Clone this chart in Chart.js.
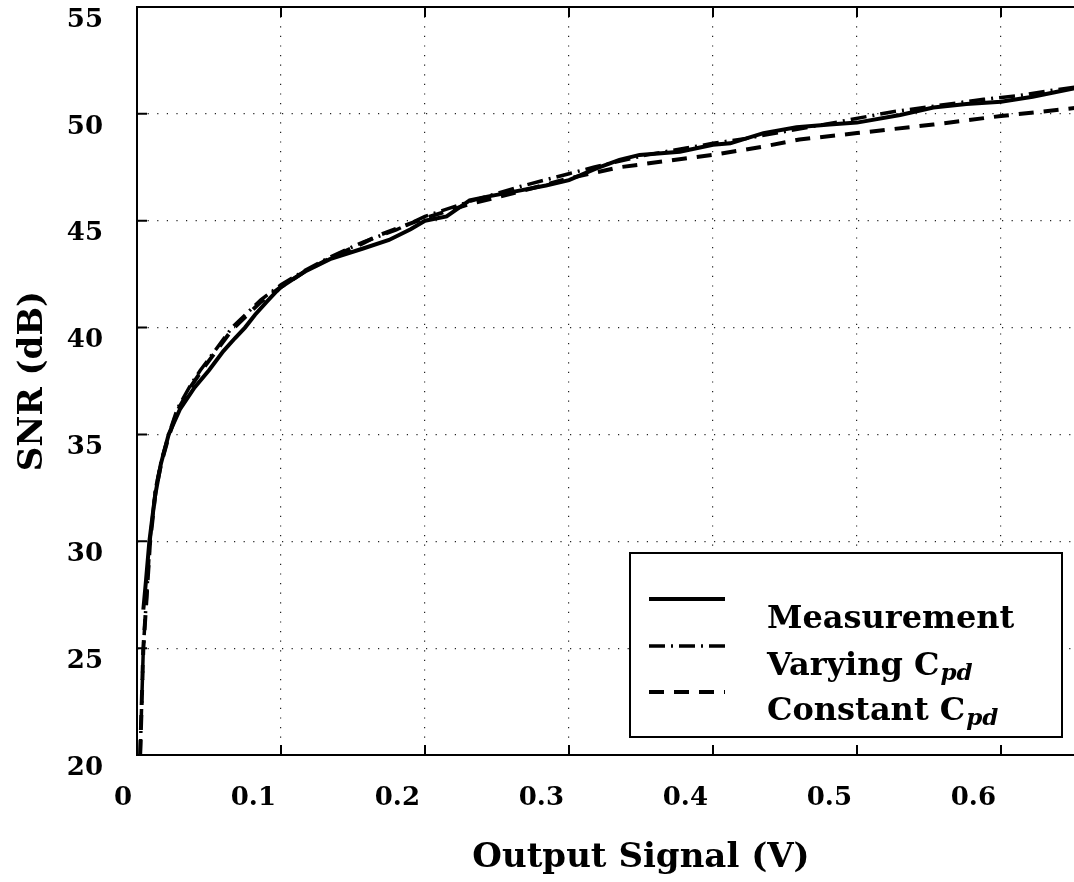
<!DOCTYPE html>
<html>
<head>
<meta charset="utf-8">
<script src="https://cdn.jsdelivr.net/npm/chart.js@4.4.1/dist/chart.umd.min.js"></script>
<style>
    html, body { margin: 0; padding: 0; background: #fff; overflow: hidden; }
    #wrap { width: 1074px; height: 882px; overflow: hidden; }
</style>
</head>
<body>
<div id="wrap"><canvas id="snrChart" width="1150" height="882"></canvas></div>
<script>
// Measured SNR vs output signal
const measX = [0.0044, 0.0063, 0.0086, 0.0125, 0.0165, 0.022, 0.030, 0.040, 0.050, 0.060, 0.068, 0.075, 0.082, 0.090, 0.097, 0.100, 0.116, 0.134, 0.157, 0.175, 0.190, 0.200, 0.215, 0.231, 0.245, 0.261, 0.284, 0.300, 0.319, 0.335, 0.349, 0.377, 0.400, 0.412, 0.435, 0.458, 0.481, 0.500, 0.530, 0.553, 0.576, 0.600, 0.622, 0.651, 0.660];
const measY = [26.8, 28.2, 30.0, 32.1, 33.6, 35.0, 36.2, 37.2, 38.0, 38.9, 39.5, 40.0, 40.6, 41.2, 41.7, 41.9, 42.6, 43.2, 43.7, 44.1, 44.6, 45.0, 45.2, 45.95, 46.15, 46.35, 46.65, 46.9, 47.45, 47.85, 48.08, 48.23, 48.55, 48.62, 49.1, 49.37, 49.5, 49.59, 49.95, 50.3, 50.46, 50.57, 50.8, 51.2, 51.35];

// Model with varying photodiode capacitance
const varX = [0.0022, 0.0033, 0.0044, 0.0067, 0.009, 0.013, 0.017, 0.022, 0.028, 0.038, 0.044, 0.055, 0.066, 0.086, 0.100, 0.116, 0.134, 0.157, 0.180, 0.200, 0.231, 0.266, 0.300, 0.317, 0.354, 0.400, 0.423, 0.481, 0.525, 0.588, 0.611, 0.634, 0.651, 0.660];
const varY = [20.0, 22.5, 25.0, 27.5, 30.0, 32.5, 33.8, 35.0, 36.2, 37.4, 38.0, 39.0, 40.0, 41.3, 42.0, 42.65, 43.3, 44.0, 44.57, 45.2, 45.9, 46.6, 47.2, 47.5, 48.08, 48.62, 48.85, 49.55, 50.1, 50.68, 50.84, 51.09, 51.25, 51.35];

// Model with constant photodiode capacitance
const constX = [0.0022, 0.0033, 0.0044, 0.0067, 0.009, 0.013, 0.017, 0.022, 0.028, 0.038, 0.045, 0.055, 0.066, 0.086, 0.100, 0.116, 0.134, 0.157, 0.169, 0.200, 0.231, 0.261, 0.300, 0.335, 0.365, 0.400, 0.435, 0.460, 0.500, 0.553, 0.600, 0.644, 0.660];
const constY = [20.0, 22.5, 25.0, 27.4, 29.9, 32.4, 33.7, 34.9, 36.1, 37.3, 38.0, 38.9, 39.9, 41.2, 41.9, 42.6, 43.25, 43.95, 44.35, 45.12, 45.78, 46.28, 46.98, 47.5, 47.77, 48.08, 48.47, 48.8, 49.1, 49.5, 49.9, 50.22, 50.35];

// Tick labels
const xTickLabels = ['0', '0.1', '0.2', '0.3', '0.4', '0.5', '0.6'];
const yTickLabels = ['20', '25', '30', '35', '40', '45', '50', '55'];

// Legend text (main part + subscript)
const legendMain = ['Measurement', 'Varying C', 'Constant C'];
const legendSub = ['', 'pd', 'pd'];

const toPoints = (xs, ys) => xs.map((v, i) => ({x: v, y: ys[i]}));

const tickFont = {family: "'DejaVu Serif', serif", weight: 'bold', size: 26};
const titleFont = {family: "'DejaVu Serif', serif", weight: 'bold', size: 34};

// Box round the plot plus MATLAB style inward ticks
const framePlugin = {
    id: 'frame',
    afterDraw(chart) {
        const {ctx, chartArea: a, scales: {x, y}} = chart;
        const tickLen = 10;
        ctx.save();
        ctx.strokeStyle = '#000';
        ctx.lineWidth = 2;
        ctx.beginPath();
        ctx.moveTo(a.left - 1, a.top);
        ctx.lineTo(a.right, a.top);
        ctx.lineTo(a.right, a.bottom);
        x.ticks.forEach(t => {
            const px = x.getPixelForValue(t.value);
            ctx.moveTo(px, a.bottom);
            ctx.lineTo(px, a.bottom - tickLen);
            ctx.moveTo(px, a.top);
            ctx.lineTo(px, a.top + tickLen);
        });
        y.ticks.forEach(t => {
            const py = y.getPixelForValue(t.value);
            ctx.moveTo(a.left, py);
            ctx.lineTo(a.left + tickLen, py);
            ctx.moveTo(a.right, py);
            ctx.lineTo(a.right - tickLen, py);
        });
        ctx.stroke();
        ctx.restore();
    }
};

// Legend drawn inside the plot, lower right
const legendPlugin = {
    id: 'boxLegend',
    afterDatasetsDraw(chart) {
        const ctx = chart.ctx;
        const box = {left: 630, top: 553, right: 1062, bottom: 737};
        const rowsY = [599, 646, 692];
        const textY = [628, 675, 720];
        ctx.save();
        ctx.fillStyle = '#fff';
        ctx.fillRect(box.left, box.top, box.right - box.left, box.bottom - box.top);
        ctx.strokeStyle = '#000';
        ctx.lineWidth = 2;
        ctx.strokeRect(box.left, box.top, box.right - box.left, box.bottom - box.top);

        chart.data.datasets.forEach((ds, i) => {
            ctx.beginPath();
            ctx.setLineDash(ds.borderDash || []);
            ctx.lineWidth = ds.borderWidth;
            ctx.strokeStyle = ds.borderColor;
            ctx.moveTo(649, rowsY[i]);
            ctx.lineTo(725, rowsY[i]);
            ctx.stroke();
            ctx.setLineDash([]);

            ctx.fillStyle = '#000';
            ctx.textBaseline = 'alphabetic';
            ctx.textAlign = 'left';
            ctx.font = "bold 32px 'DejaVu Serif', serif";
            ctx.fillText(legendMain[i], 767, textY[i]);
            if (legendSub[i]) {
                const w = ctx.measureText(legendMain[i]).width;
                ctx.font = "italic bold 23px 'DejaVu Serif', serif";
                ctx.fillText(legendSub[i], 767 + w + 1, textY[i] + 5);
            }
        });
        ctx.restore();
    }
};

new Chart(document.getElementById('snrChart'), {
    type: 'line',
    data: {
        datasets: [{
            label: legendMain[0],
            data: toPoints(measX, measY),
            borderColor: '#000',
            borderWidth: 4,
            borderDash: [],
            pointRadius: 0,
            tension: 0
        }, {
            label: legendMain[1] + legendSub[1],
            data: toPoints(varX, varY),
            borderColor: '#000',
            borderWidth: 3.5,
            borderDash: [16, 6, 2, 6],
            pointRadius: 0,
            tension: 0
        }, {
            label: legendMain[2] + legendSub[2],
            data: toPoints(constX, constY),
            borderColor: '#000',
            borderWidth: 4,
            borderDash: [15, 10],
            pointRadius: 0,
            tension: 0
        }]
    },
    options: {
        responsive: false,
        animation: false,
        layout: {padding: {left: 0, right: 5, top: 7, bottom: 0}},
        plugins: {
            legend: {display: false},
            tooltip: {enabled: false}
        },
        scales: {
            x: {
                type: 'linear',
                min: 0,
                max: 0.7,
                afterFit(scale) {
                    scale.height = 127;
                    scale.paddingLeft = 0;
                    scale.paddingRight = 0;
                },
                ticks: {
                    stepSize: 0.1,
                    align: 'end',
                    labelOffset: -5,
                    padding: 28,
                    color: '#000',
                    font: tickFont,
                    maxRotation: 0,
                    autoSkip: false,
                    callback: (value, index) => xTickLabels[index] ?? ''
                },
                grid: {color: '#222', lineWidth: 1.2, drawTicks: false},
                border: {display: true, width: 2, color: '#000', dash: [1.2, 8.4]},
                title: {
                    display: true,
                    text: 'Output Signal (V)',
                    color: '#000',
                    font: titleFont,
                    padding: {top: 0, bottom: 3}
                }
            },
            y: {
                min: 20,
                max: 55,
                afterFit(scale) {
                    scale.width = 137;
                    scale.paddingTop = 0;
                    scale.paddingBottom = 0;
                },
                ticks: {
                    stepSize: 5,
                    padding: 34,
                    labelOffset: 13,
                    color: '#000',
                    font: tickFont,
                    callback: (value, index) => yTickLabels[index] ?? ''
                },
                grid: {color: '#222', lineWidth: 1.2, drawTicks: false},
                border: {display: true, width: 2, color: '#000', dash: [1.2, 8.4]},
                title: {
                    display: true,
                    text: 'SNR (dB)',
                    color: '#000',
                    font: titleFont,
                    padding: {top: 13, bottom: 0}
                }
            }
        }
    },
    plugins: [legendPlugin, framePlugin]
});
</script>
</body>
</html>
